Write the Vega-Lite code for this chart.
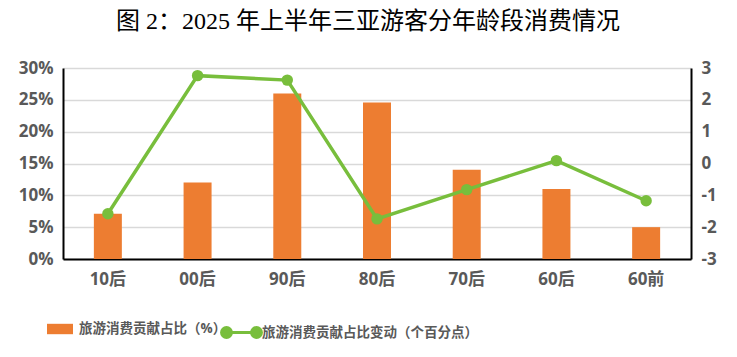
{
  "$schema": "https://vega.github.io/schema/vega-lite/v6.json",
  "width": 628,
  "height": 191,
  "autosize": {"type": "none"},
  "padding": {"left": 63, "top": 68, "right": 46, "bottom": 98},
  "background": "white",
  "title": {
    "text": "图 2：2025 年上半年三亚游客分年龄段消费情况",
    "font": "Liberation Serif, Noto Sans CJK SC",
    "fontSize": 24,
    "fontWeight": "normal",
    "color": "#000000",
    "anchor": "middle",
    "dx": -9,
    "offset": 25
  },
  "config": {
    "view": {"stroke": null},
    "font": "Open Sans, Noto Sans CJK SC"
  },
  "data": {
    "values": [
      {"group": "10后", "share": 7.1, "change": -1.58, "s1": "旅游消费贡献占比（%）", "s2": "旅游消费贡献占比变动（个百分点）"},
      {"group": "00后", "share": 12.0, "change": 2.76, "s1": "旅游消费贡献占比（%）", "s2": "旅游消费贡献占比变动（个百分点）"},
      {"group": "90后", "share": 26.0, "change": 2.62, "s1": "旅游消费贡献占比（%）", "s2": "旅游消费贡献占比变动（个百分点）"},
      {"group": "80后", "share": 24.6, "change": -1.74, "s1": "旅游消费贡献占比（%）", "s2": "旅游消费贡献占比变动（个百分点）"},
      {"group": "70后", "share": 14.0, "change": -0.82, "s1": "旅游消费贡献占比（%）", "s2": "旅游消费贡献占比变动（个百分点）"},
      {"group": "60后", "share": 11.0, "change": 0.09, "s1": "旅游消费贡献占比（%）", "s2": "旅游消费贡献占比变动（个百分点）"},
      {"group": "60前", "share": 5.0, "change": -1.17, "s1": "旅游消费贡献占比（%）", "s2": "旅游消费贡献占比变动（个百分点）"}
    ]
  },
  "encoding": {
    "x": {
      "field": "group",
      "type": "nominal",
      "sort": null,
      "scale": {"paddingInner": 0.688, "paddingOuter": 0.344},
      "axis": {
        "title": null,
        "labelAngle": 0,
        "labelFontSize": 17,
        "labelFontWeight": "bold",
        "labelColor": "#595959",
        "labelPadding": 12,
        "ticks": false,
        "domainColor": "#000000",
        "domainWidth": 2,
        "grid": false
      }
    }
  },
  "layer": [
    {
      "mark": {"type": "bar"},
      "encoding": {
        "y": {
          "field": "share",
          "type": "quantitative",
          "scale": {"domain": [0, 30], "nice": false},
          "axis": {
            "title": null,
            "values": [0, 5, 10, 15, 20, 25, 30],
            "labelExpr": "datum.value + '%'",
            "labelFontSize": 17,
            "labelFontWeight": "bold",
            "labelColor": "#595959",
            "labelPadding": 10,
            "ticks": false,
            "domainColor": "#000000",
            "domainWidth": 2,
            "grid": true,
            "gridColor": "#d9d9d9",
            "gridWidth": 1.5
          }
        },
        "fill": {
          "field": "s1",
          "type": "nominal",
          "scale": {"range": ["#ED7D31"]},
          "legend": {
            "title": null,
            "orient": "none",
            "legendX": -16,
            "legendY": 248,
            "symbolType": "M-1,-0.4H1V0.4H-1Z",
            "symbolSize": 676,
            "symbolStrokeWidth": 0,
            "labelFontSize": 13.5,
            "labelFontWeight": "bold",
            "labelColor": "#595959",
            "labelOffset": 6,
            "labelLimit": 400
          }
        }
      }
    },
    {
      "mark": {"type": "line", "strokeWidth": 3.5, "point": {"filled": true, "size": 130}},
      "encoding": {
        "y": {
          "field": "change",
          "type": "quantitative",
          "scale": {"domain": [-3, 3], "nice": false},
          "axis": {
            "title": null,
            "orient": "right",
            "values": [-3, -2, -1, 0, 1, 2, 3],
            "labelExpr": "'' + datum.value",
            "labelFontSize": 17,
            "labelFontWeight": "bold",
            "labelColor": "#595959",
            "labelPadding": 10,
            "ticks": false,
            "domainColor": "#000000",
            "domainWidth": 2,
            "grid": false
          }
        },
        "color": {
          "field": "s2",
          "type": "nominal",
          "scale": {"range": ["#78BE3C"]},
          "legend": {
            "title": null,
            "orient": "none",
            "legendX": 162,
            "legendY": 248,
            "symbolType": "M-1,0H1M-1.33,0a0.33,0.33 0 1,0 0.66,0a0.33,0.33 0 1,0 -0.66,0M0.67,0a0.33,0.33 0 1,0 0.66,0a0.33,0.33 0 1,0 -0.66,0",
            "symbolSize": 900,
            "symbolStrokeWidth": 3,
            "labelFontSize": 13.5,
            "labelFontWeight": "bold",
            "labelColor": "#595959",
            "labelOffset": 4,
            "labelLimit": 400,
            "encode": {"symbols": {"update": {"fill": {"value": "#78BE3C"}, "stroke": {"value": "#78BE3C"}}}}
          }
        }
      }
    }
  ],
  "resolve": {"scale": {"y": "independent"}}
}
